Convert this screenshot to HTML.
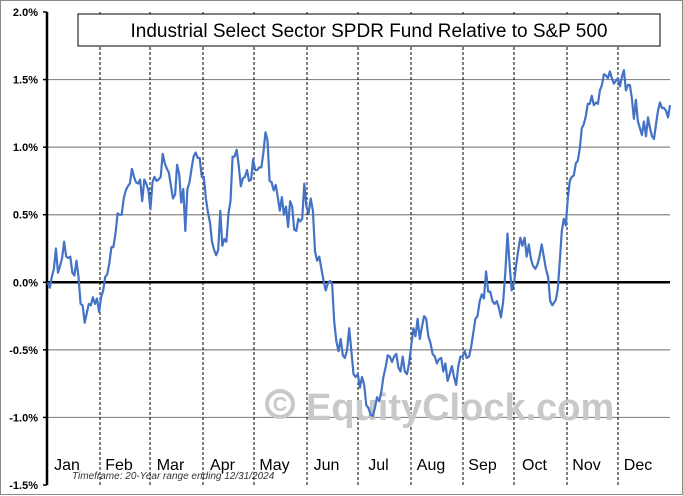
<!DOCTYPE html>
<html><head><meta charset="utf-8"><style>
body{margin:0;background:#fff;}
svg{display:block;font-family:"Liberation Sans",sans-serif;}
</style></head><body>
<svg id="chart" width="683" height="496" viewBox="0 0 683 496">
<rect x="0.5" y="0.5" width="682" height="494" fill="#fff" stroke="#888"/>
<g id="grid"></g>
<g id="wm">
<circle cx="280" cy="404" r="13" fill="none" stroke="#c8c8c8" stroke-width="4"/>
<text x="280" y="411" text-anchor="middle" font-size="20" font-weight="bold" fill="#c8c8c8">C</text>
<text x="306" y="420" font-size="38" font-weight="bold" fill="#c8c8c8">EquityClock.com</text>
</g>
<g id="axes"></g>
<path id="line" fill="none" stroke="#4472c4" stroke-width="2.2" stroke-linejoin="round"/>
<rect x="78" y="14" width="582" height="32" fill="#fff" stroke="#000"/>
<text x="369" y="37" text-anchor="middle" font-size="19">Industrial Select Sector SPDR Fund Relative to S&amp;P 500</text>
<text x="72" y="479" font-size="10" font-style="italic" fill="#333">Timeframe: 20-Year range ending 12/31/2024</text>
</svg>
<script>
const yTicks=[2.0,1.5,1.0,0.5,0.0,-0.5,-1.0,-1.5];
const months=["Jan","Feb","Mar","Apr","May","Jun","Jul","Aug","Sep","Oct","Nov","Dec"];
const monthEdges=[46,100,150,203,254,307,358,411,463,514,567,618,670];
const dayRangeH1=[1,148];
const dayRangeH2=[149,297];
const dayRangeH3=[299,366];
const valuesH1=[0.00,-0.04,0.04,0.10,0.25,0.07,0.12,0.18,0.30,0.19,0.18,0.19,0.07,0.05,0.16,0.04,-0.16,-0.17,-0.30,-0.23,-0.16,-0.17,-0.11,-0.16,-0.12,-0.22,-0.11,-0.06,0.04,0.06,0.14,0.26,0.26,0.36,0.51,0.50,0.50,0.62,0.68,0.71,0.73,0.84,0.78,0.74,0.73,0.76,0.60,0.76,0.73,0.68,0.54,0.74,0.78,0.75,0.76,0.78,0.95,0.88,0.84,0.81,0.71,0.62,0.65,0.87,0.80,0.59,0.69,0.38,0.69,0.74,0.84,0.93,0.96,0.92,0.92,0.78,0.78,0.62,0.52,0.44,0.30,0.24,0.20,0.24,0.53,0.27,0.32,0.30,0.51,0.60,0.93,0.93,0.98,0.86,0.71,0.77,0.78,0.83,0.75,0.76,0.91,0.83,0.83,0.85,0.85,0.96,1.11,1.05,0.75,0.74,0.68,0.72,0.63,0.53,0.63,0.50,0.56,0.41,0.60,0.56,0.39,0.38,0.47];
const valuesH2=[0.45,0.47,0.73,0.56,0.51,0.62,0.53,0.23,0.16,0.19,0.10,0.01,-0.06,-0.01,0.01,-0.01,-0.29,-0.44,-0.51,-0.42,-0.54,-0.56,-0.50,-0.34,-0.51,-0.68,-0.70,-0.68,-0.78,-0.70,-0.76,-0.91,-0.93,-0.98,-0.99,-0.93,-0.85,-0.88,-0.81,-0.70,-0.63,-0.54,-0.55,-0.59,-0.55,-0.53,-0.63,-0.66,-0.55,-0.66,-0.68,-0.60,-0.47,-0.34,-0.40,-0.27,-0.42,-0.33,-0.25,-0.27,-0.40,-0.45,-0.53,-0.55,-0.60,-0.57,-0.56,-0.66,-0.60,-0.73,-0.68,-0.62,-0.70,-0.76,-0.62,-0.55,-0.55,-0.51,-0.56,-0.55,-0.48,-0.38,-0.27,-0.25,-0.14,-0.09,-0.12,0.08,-0.07,-0.07,-0.14,-0.16,-0.14,-0.19,-0.26,-0.14,0.07,0.36,0.13,-0.06,-0.01,0.12,0.23,0.33,0.27,0.33,0.19,0.28,0.17,0.12,0.10,0.13,0.19,0.28,0.19,0.10,0.04,-0.14,-0.17];
const valuesH3=[-0.13,-0.05,0.16,0.38,0.47,0.42,0.62,0.75,0.78,0.79,0.88,0.90,0.99,1.14,1.17,1.23,1.32,1.32,1.38,1.31,1.33,1.32,1.42,1.46,1.54,1.53,1.51,1.56,1.51,1.47,1.49,1.51,1.45,1.52,1.57,1.42,1.46,1.46,1.36,1.21,1.35,1.19,1.14,1.09,1.19,1.08,1.22,1.14,1.08,1.06,1.17,1.27,1.33,1.29,1.29,1.27,1.22,1.31];
const XL=46,XR=670,yTop=12,yBot=485,vmax=2.0,vmin=-1.5;
const yS=v=>yTop+(vmax-v)/(vmax-vmin)*(yBot-yTop);
const xD=d=>XL+d/366*(XR-XL);
const NS="http://www.w3.org/2000/svg";
const grid=document.getElementById('grid'),axes=document.getElementById('axes');
function mk(tag,attrs,parent){const e=document.createElementNS(NS,tag);for(const k in attrs)e.setAttribute(k,attrs[k]);parent.appendChild(e);return e;}
yTicks.forEach(v=>{
  const y=yS(v);
  if(v!==0&&v!==vmax&&v!==vmin){const l=mk('line',{x1:46,x2:670,y1:y,y2:y,stroke:'#888','stroke-width':1.2},grid);
  
  }
  const t=mk('text',{x:38,y:y+4,'text-anchor':'end','font-size':11,'font-weight':'bold'},axes);
  
  
  t.textContent=v.toFixed(1)+'%';
  mk('line',{x1:43,x2:47,y1:y,y2:y,stroke:'#000','stroke-width':1.5},axes);
});
monthEdges.slice(1,-1).forEach(x=>{
  const l=mk('line',{x1:x,x2:x,y1:yTop,y2:yBot,stroke:'#000','stroke-width':1,'stroke-dasharray':'3,2'},grid);
  
  
});
months.forEach((m,i)=>{
  const t=mk('text',{x:(monthEdges[i]+monthEdges[i+1])/2-6,y:470,'text-anchor':'middle','font-size':16},axes);
  
  
  t.textContent=m;
});
const z=mk('line',{x1:46,x2:670,y1:yS(0),y2:yS(0),stroke:'#000','stroke-width':2.5},axes);


const ya=mk('line',{x1:47,x2:47,y1:yTop,y2:yBot,stroke:'#000','stroke-width':2.5},axes);


const pts=[];
function addSeg(vals,range){vals.forEach((v,i)=>pts.push([xD(range[0]+i/(vals.length-1)*(range[1]-range[0])),yS(v)]));}
addSeg(valuesH1,dayRangeH1);
addSeg(valuesH2,dayRangeH2);
addSeg(valuesH3,dayRangeH3);
document.getElementById('line').setAttribute('d',pts.map((p,i)=>(i?'L':'M')+p[0].toFixed(1)+','+p[1].toFixed(1)).join(''));
</script>
</body></html>
